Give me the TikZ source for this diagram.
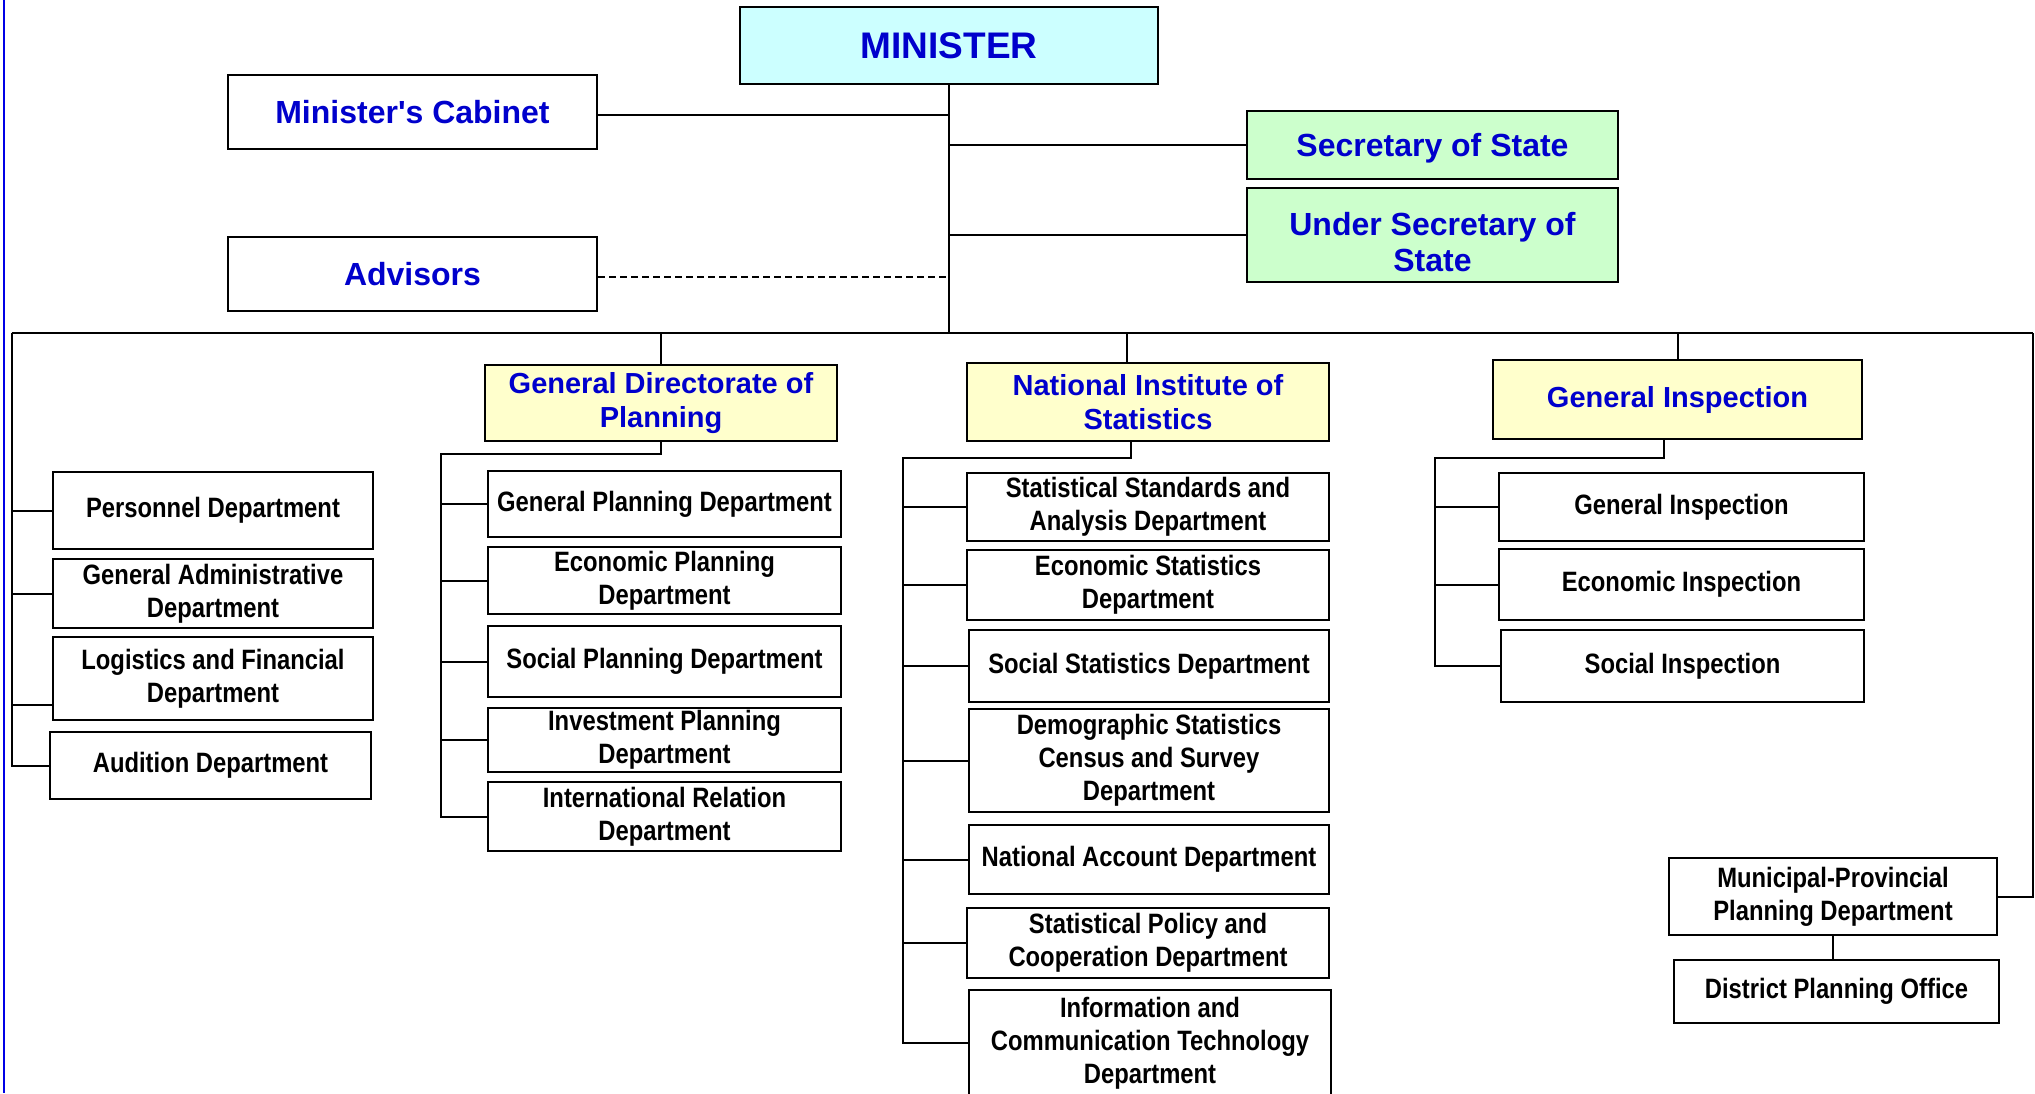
\documentclass[tikz,border=0pt]{standalone}
\usepackage{fontspec}
\setmainfont{Liberation Sans}
\newfontfamily\narrowfont[FakeStretch=0.85]{Liberation Sans}
\definecolor{hdblue}{RGB}{0,0,204}
\definecolor{edgeblue}{RGB}{0,0,230}
\definecolor{mincyan}{RGB}{204,255,255}
\definecolor{secgreen}{RGB}{204,255,204}
\definecolor{diryellow}{RGB}{255,255,204}
\begin{document}
\begin{tikzpicture}[x=1pt,y=-1pt,
  box/.style={draw, line width=2pt, inner sep=2pt, align=center, font={\narrowfont\bfseries\fontsize{28}{33}\selectfont}},
  topbox/.style={draw, line width=2pt, inner sep=2pt, align=center, text=hdblue, font={\bfseries\fontsize{32}{36}\selectfont}},
  headbox/.style={draw, line width=2pt, inner sep=2pt, align=center, fill=diryellow, text=hdblue, font={\bfseries\fontsize{29}{34}\selectfont}},
  sz/.style 2 args={minimum width=#1pt, minimum height=#2pt},
  conn/.style={line width=2pt}]
\useasboundingbox (0,0) rectangle (2035,1093);
\fill[white] (0,0) rectangle (2035,1093);

% top level
\node[topbox, fill=mincyan, sz={418}{77}, font={\bfseries\fontsize{37}{42}\selectfont}] (min) at (949,45.5) {MINISTER};
\node[topbox, sz={369}{74}] (cab) at (412.5,112) {Minister\textquotesingle s Cabinet};
\node[topbox, sz={369}{74}] (adv) at (412.5,274) {Advisors};
\node[topbox, fill=secgreen, sz={371}{68},
  label={[text=hdblue, font={\bfseries\fontsize{32}{36}\selectfont}, yshift=-3pt]center:Secretary of State}] (sec) at (1432.5,145) {};
\node[topbox, fill=secgreen, sz={371}{94},
  label={[text=hdblue, align=center, font={\bfseries\fontsize{32}{36}\selectfont}, yshift=-7pt]center:Under Secretary of\\State}] (usec) at (1432.5,235) {};

% directorates
\node[headbox, sz={352}{76}] (gdp) at (661,403) {General Directorate of\\Planning};
\node[headbox, sz={362}{78}] (nis) at (1148,402) {National Institute of\\Statistics};
\node[headbox, sz={369}{79}] (gi) at (1677.5,399.5) {General Inspection};

% left column
\node[box, sz={320}{77}] (pers) at (213,510.5) {Personnel Department};
\node[box, sz={320}{69}] (gadm) at (213,593.5) {General Administrative\\Department};
\node[box, sz={320}{83}] (logi) at (213,678.5) {Logistics and Financial\\Department};
\node[box, sz={321}{67}] (aud) at (210.5,765.5) {Audition Department};

% planning column
\node[box, sz={353}{66}] (gp) at (664.5,504) {General Planning Department};
\node[box, sz={353}{67}] (ep) at (664.5,580.5) {Economic Planning\\Department};
\node[box, sz={353}{71}] (sp) at (664.5,661.5) {Social Planning Department};
\node[box, sz={353}{64}] (ip) at (664.5,740) {Investment Planning\\Department};
\node[box, sz={353}{69}] (ir) at (664.5,816.5) {International Relation\\Department};

% statistics column
\node[box, sz={362}{68}] (ssa) at (1148,507) {Statistical Standards and\\Analysis Department};
\node[box, sz={362}{70}] (es) at (1148,585) {Economic Statistics\\Department};
\node[box, sz={360}{72}] (ss) at (1149,666) {Social Statistics Department};
\node[box, sz={360}{103}] (ds) at (1149,760.5) {Demographic Statistics\\Census and Survey\\Department};
\node[box, sz={360}{69}] (na) at (1149,859.5) {National Account Department};
\node[box, sz={362}{70}] (spc) at (1148,943) {Statistical Policy and\\Cooperation Department};
\node[box, sz={362}{106}] (ict) at (1150,1043) {Information and\\Communication Technology\\Department};

% inspection column
\node[box, sz={365}{68}] (gi2) at (1681.5,507) {General Inspection};
\node[box, sz={365}{71}] (ei) at (1681.5,584.5) {Economic Inspection};
\node[box, sz={363}{72}] (si) at (1682.5,666) {Social Inspection};

% provincial
\node[box, sz={328}{77}] (muni) at (1833,896.5) {Municipal-Provincial\\Planning Department};
\node[box, sz={325}{63}] (dist) at (1836.5,991.5) {District Planning Office};

% trunk and top connectors
\coordinate (trunk) at (949,333);
\coordinate (busL) at (11.5,333);
\coordinate (busR) at (2033,333);
\coordinate (cabe) at ([yshift=-3pt]cab.east);
\coordinate (adve) at ([yshift=-3pt]adv.east);
\draw[conn] (min.south) -- (trunk);
\draw[conn] (cabe) -- (cabe -| trunk);
\draw[conn] (sec.west) -- (sec.west -| trunk);
\draw[conn] (usec.west) -- (usec.west -| trunk);
\draw[conn, dash pattern=on 7pt off 4pt] (adve) -- (adve -| trunk);
\draw[conn] (busL) -- (busR);

% left tree
\coordinate (logiw) at ([yshift=-26.5pt]logi.west);
\draw[conn] (busL) -- (busL |- aud.west) -- (aud.west);
\draw[conn] (pers.west) -- (pers.west -| busL);
\draw[conn] (gadm.west) -- (gadm.west -| busL);
\draw[conn] (logiw) -- (logiw -| busL);

% planning tree
\coordinate (gdpv) at (441,454);
\draw[conn] (gdp.north |- busL) -- (gdp.north);
\draw[conn] (gdp.south) |- (gdpv) -- (gdpv |- ir.west) -- (ir.west);
\draw[conn] (gp.west) -- (gp.west -| gdpv);
\draw[conn] (ep.west) -- (ep.west -| gdpv);
\draw[conn] (sp.west) -- (sp.west -| gdpv);
\draw[conn] (ip.west) -- (ip.west -| gdpv);

% statistics tree
\coordinate (nistop) at ([xshift=-21pt]nis.north);
\coordinate (nisbot) at ([xshift=-17pt]nis.south);
\coordinate (nisv) at (903,458);
\draw[conn] (nistop |- busL) -- (nistop);
\draw[conn] (nisbot) |- (nisv) -- (nisv |- ict.west) -- (ict.west);
\draw[conn] (ssa.west) -- (ssa.west -| nisv);
\draw[conn] (es.west) -- (es.west -| nisv);
\draw[conn] (ss.west) -- (ss.west -| nisv);
\draw[conn] (ds.west) -- (ds.west -| nisv);
\draw[conn] (na.west) -- (na.west -| nisv);
\draw[conn] (spc.west) -- (spc.west -| nisv);

% inspection tree
\coordinate (gibot) at ([xshift=-13.5pt]gi.south);
\coordinate (giv) at (1435,458);
\draw[conn] (gi.north |- busR) -- (gi.north);
\draw[conn] (gibot) |- (giv) -- (giv |- si.west) -- (si.west);
\draw[conn] (gi2.west) -- (gi2.west -| giv);
\draw[conn] (ei.west) -- (ei.west -| giv);

% provincial branch
\draw[conn] (busR) |- (muni.east);
\draw[conn] (muni.south) -- (muni.south |- dist.north);

% left edge line
\draw[edgeblue, line width=2pt] (3.5,0) -- (3.5,1093);
\end{tikzpicture}
\end{document}
